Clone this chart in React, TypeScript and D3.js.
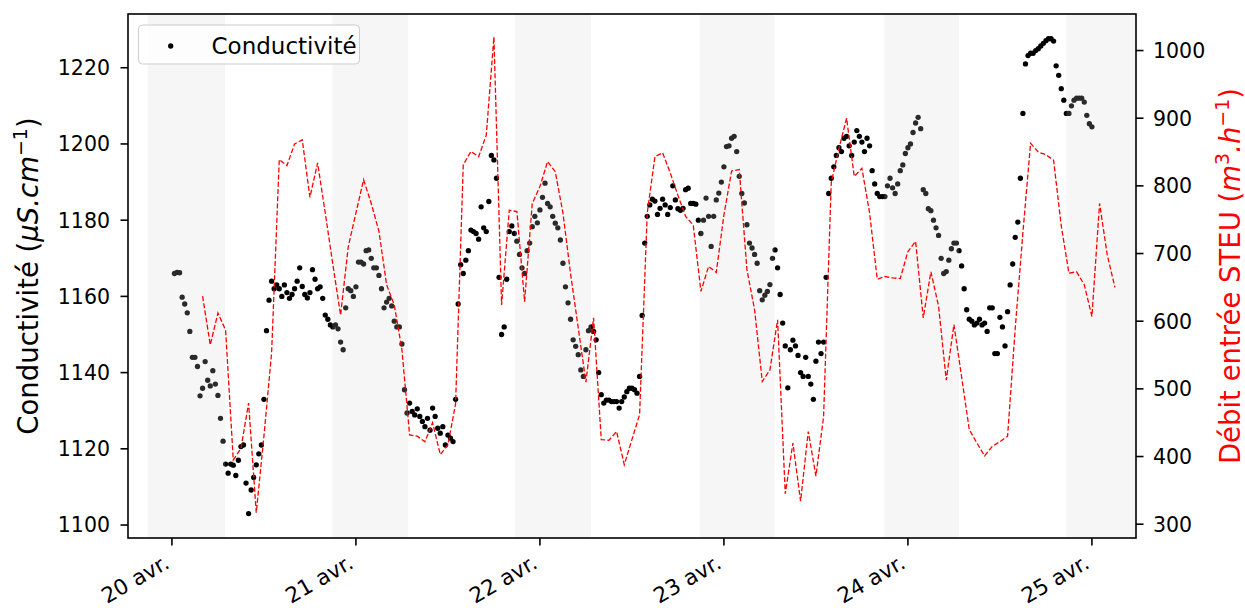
import * as d3 from 'd3';

// Conductivité (µS/cm), une mesure toutes les 20 min, à partir de 00:20 chaque jour
const COND_20 = [
  1166, 1166.3, 1166.2, 1159.8, 1158, 1155.7, 1150.8, 1144, 1144, 1141.6,
  1133.9, 1135.9, 1142.9, 1138, 1136.5, 1140.5, 1137, 1134, 1128, 1122,
  1116, 1113.6, 1116, 1115.7, 1113, 1117, 1120.6, 1121, 1111, 1103,
  1109.2, 1112.5, 1115.8, 1118.7, 1121, 1133, 1151, 1159, 1164, 1162,
  1163, 1162, 1160, 1163, 1161, 1159.5, 1160.5, 1162, 1164, 1167.5,
  1162.6, 1160.5, 1159.6, 1161, 1167, 1164.5, 1162, 1162.5, 1159.5, 1155.1,
  1154, 1152.5, 1152, 1152.5, 1151.5, 1148, 1146, 1157, 1162, 1161.5,
  1160, 1162.5
];
const COND_21 = [
  1169, 1169, 1168.5, 1172, 1172.2, 1170, 1167.5, 1167.5, 1165.5, 1162,
  1157, 1158.5, 1159.5, 1157.5, 1153.5, 1152, 1152, 1147.5, 1135.5, 1129.4,
  1132, 1129.8, 1128.9, 1130.5, 1128.5, 1127.2, 1125.8, 1128, 1124.9, 1130.7,
  1128.5, 1125.4, 1124.1, 1125.8, 1121, 1123.6, 1122.8, 1121.9, 1133, 1158,
  1168.3, 1166, 1169.5, 1172, 1177.4, 1177, 1176.5, 1175, 1183.5, 1178,
  1177, 1184.9, 1197, 1195.8, 1191, 1165, 1150, 1152, 1164.5, 1177,
  1178.5, 1176.5, 1174.5, 1171, 1167.5, 1166, 1172, 1174, 1178.3, 1181,
  1179.3, 1182.7
];
const COND_22 = [
  1186, 1189.7, 1184.4, 1183.5, 1181, 1179.2, 1178, 1174.8, 1168.7, 1162.5,
  1158.3, 1154, 1148.6, 1146.9, 1144.7, 1140.7, 1139, 1146, 1151, 1152,
  1150.8, 1148.6, 1140, 1134.2, 1132, 1132.8, 1132.8, 1132.4, 1132.4, 1132.4,
  1130.7, 1132.4, 1133.6, 1135, 1135.9, 1135.9, 1135.5, 1134.6, 1139, 1155,
  1174, 1181, 1184, 1185.5, 1185, 1181.5, 1183.1, 1185.5, 1184, 1181.5,
  1183.3, 1189, 1185.3, 1183, 1182.6, 1183.1, 1188, 1188.4, 1184.4, 1184.4,
  1184.2, 1180, 1176.5, 1180, 1185.8, 1181, 1173.1, 1181, 1185.3, 1187.1,
  1190, 1194
];
const COND_23 = [
  1199.3, 1199.5, 1201.5, 1202, 1198, 1191.5, 1187, 1184.5, 1178.8, 1174,
  1172.7, 1171, 1168.7, 1161.5, 1159.1, 1160.3, 1161.3, 1163.1, 1170, 1172.2,
  1167.5, 1160.5, 1153, 1147, 1136, 1146, 1148.5, 1147, 1144.5, 1140,
  1139, 1144, 1139, 1137, 1133, 1143, 1148, 1145, 1148, 1165,
  1187, 1191, 1194, 1197, 1199, 1198, 1201.5, 1202, 1199.5, 1197,
  1200.5, 1203.5, 1202, 1200.5, 1198, 1201.5, 1199.5, 1193, 1189.5, 1187,
  1186.2, 1186.2, 1186.2, 1189, 1191, 1188.5, 1187, 1189.5, 1193, 1194.5,
  1197.5, 1199
];
const COND_24 = [
  1200, 1203, 1205.5, 1207, 1204, 1188, 1187, 1183, 1182.5, 1180,
  1178, 1176, 1170, 1166, 1166.5, 1169.5, 1172.5, 1174, 1174, 1172,
  1168, 1162, 1156.5, 1154, 1153.5, 1152.5, 1153, 1154, 1152.5, 1153,
  1150.8, 1157, 1157, 1145, 1145, 1154.5, 1152, 1147, 1156, 1163,
  1168.5, 1175.5, 1179.5, 1191, 1208, 1221, 1223.2, 1223.8, 1223.8, 1224.5,
  1225, 1225.7, 1226.4, 1227.1, 1227.6, 1227.6, 1227, 1220.5, 1218, 1214.5,
  1211.5, 1208, 1208, 1210, 1211.5, 1212, 1212, 1212, 1211, 1207.5,
  1205.3, 1204.5
];
const COND_DAYS = [COND_20, COND_21, COND_22, COND_23, COND_24];

// Débit entrée STEU (m3/h), horaire
const DEBIT_20 = [637, 565, 612, 587, 395, 412, 479, 317, 430, 553, 839, 830, 862, 868, 783, 834, 760, 683, 609, 710]; // de 04:00
const DEBIT_21 = [760, 809, 774, 733, 654, 624, 558, 432, 430, 422, 450, 403, 417, 478, 831, 851, 843, 875, 1020, 624, 764, 762, 629, 774];
const DEBIT_22 = [799, 836, 821, 760, 670, 590, 510, 605, 425, 424, 437, 388, 425, 462, 760, 843, 849, 819, 786, 755, 742, 644, 681, 672];
const DEBIT_23 = [757, 822, 824, 676, 617, 511, 528, 602, 345, 420, 334, 437, 371, 459, 805, 855, 900, 814, 826, 760, 662, 666, 664, 663];
const DEBIT_24 = [703, 718, 605, 673, 622, 513, 595, 518, 440, 420, 401, 415, 422, 430, 590, 731, 863, 850, 846, 838, 741, 671, 673, 654];
const DEBIT_25 = [607, 774, 698, 650];
const DEBIT_DAYS = [DEBIT_20, DEBIT_21, DEBIT_22, DEBIT_23, DEBIT_24, DEBIT_25];
const DEBIT_FIRST_HOUR = [4, 0, 0, 0, 0, 0];

// périodes de nuit (zones grisées)
const NIGHTS = [
  ['2023-04-19T20:50', '2023-04-20T06:55'],
  ['2023-04-20T20:55', '2023-04-21T06:50'],
  ['2023-04-21T20:45', '2023-04-22T06:40'],
  ['2023-04-22T20:50', '2023-04-23T06:35'],
  ['2023-04-23T20:55', '2023-04-24T06:40'],
  ['2023-04-24T20:40', '2023-04-25T06:40']
];

const DAY_TICKS = ['2023-04-20', '2023-04-21', '2023-04-22', '2023-04-23', '2023-04-24', '2023-04-25'];
const MONTHS_FR = ['janv.', 'févr.', 'mars', 'avr.', 'mai', 'juin', 'juil.', 'août', 'sept.', 'oct.', 'nov.', 'déc.'];
const COND_TICKS = [1100, 1120, 1140, 1160, 1180, 1200, 1220];
const DEBIT_TICKS = [300, 400, 500, 600, 700, 800, 900, 1000];

const W = 1245;
const H = 608;
const LEFT = 128;
const RIGHT = 1136;
const TOP = 14;
const BOTTOM = 538;
const FONT = 'DejaVu Sans';

export default function App() {
  const HOUR = 3600e3;
  const t0 = Date.UTC(2023, 3, 20);
  const parse = d3.utcParse('%Y-%m-%dT%H:%M');
  const parseDay = d3.utcParse('%Y-%m-%d');

  const x = d3
    .scaleUtc()
    .domain([new Date(t0 - 5.73 * HOUR), new Date(t0 + 125.75 * HOUR)])
    .range([LEFT, RIGHT]);
  const yCond = d3.scaleLinear().domain([1096.6, 1234.1]).range([BOTTOM, TOP]);
  const yDebit = d3.scaleLinear().domain([279.6, 1054]).range([BOTTOM, TOP]);

  const cond = COND_DAYS.flatMap((vals, d) =>
    vals.map((v, i) => ({ t: new Date(t0 + (d * 24 + (i + 1) / 3) * HOUR), v }))
  );
  const debit = DEBIT_DAYS.flatMap((vals, d) =>
    vals.map((v, i) => ({ t: new Date(t0 + (d * 24 + DEBIT_FIRST_HOUR[d] + i) * HOUR), v }))
  );

  const line = d3
    .line<{ t: Date; v: number }>()
    .x((d) => x(d.t))
    .y((d) => yDebit(d.v));

  const fmtDay = (d: Date) => `${d.getUTCDate()} ${MONTHS_FR[d.getUTCMonth()]}`;

  return (
    <svg
      width={W}
      height={H}
      style={{ position: 'absolute', left: 0, top: 0, background: '#fff' }}
      fontFamily={FONT}
    >
      <defs>
        <clipPath id="plot-area">
          <rect x={LEFT} y={TOP} width={RIGHT - LEFT} height={BOTTOM - TOP} />
        </clipPath>
      </defs>

      <g clipPath="url(#plot-area)">
        {cond.map((d, i) => (
          <circle key={i} cx={x(d.t)} cy={yCond(d.v)} r={2.65} fill="#000" />
        ))}
        {NIGHTS.map(([a, b], i) => {
          const x0 = x(parse(a)!);
          const x1 = x(parse(b)!);
          return (
            <rect key={i} x={x0} y={TOP} width={x1 - x0} height={BOTTOM - TOP} fill="#d3d3d3" fillOpacity={0.2} />
          );
        })}
        <path
          d={line(debit) ?? ''}
          fill="none"
          stroke="#ff0000"
          strokeWidth={1.3}
          strokeDasharray="5,2.2"
        />
      </g>

      <rect
        x={LEFT}
        y={TOP}
        width={RIGHT - LEFT}
        height={BOTTOM - TOP}
        fill="none"
        stroke="#000"
        strokeWidth={1.6}
      />

      {/* axe gauche */}
      {COND_TICKS.map((v) => (
        <g key={v} transform={`translate(0,${yCond(v)})`}>
          <line x1={LEFT - 7.5} x2={LEFT} stroke="#000" strokeWidth={1.6} />
          <text x={110} dy="0.36em" textAnchor="end" fontSize={20.5} fill="#000">
            {v}
          </text>
        </g>
      ))}

      {/* axe droit */}
      {DEBIT_TICKS.map((v) => (
        <g key={v} transform={`translate(0,${yDebit(v)})`}>
          <line x1={RIGHT} x2={RIGHT + 7.5} stroke="#000" strokeWidth={1.6} />
          <text x={1153} dy="0.36em" textAnchor="start" fontSize={20.5} fill="#000">
            {v}
          </text>
        </g>
      ))}

      {/* axe x */}
      {DAY_TICKS.map((s) => {
        const d = parseDay(s)!;
        const px = x(d);
        return (
          <g key={s}>
            <line x1={px} x2={px} y1={BOTTOM} y2={BOTTOM + 7.5} stroke="#000" strokeWidth={1.6} />
            <text
              transform={`translate(${px - 1},${BOTTOM + 29}) rotate(-30)`}
              textAnchor="end"
              fontSize={21.5}
              fill="#000"
            >
              {fmtDay(d)}
            </text>
          </g>
        );
      })}

      {/* légende */}
      <rect x={138.5} y={25} width={221} height={39} rx={4} fill="#fff" fillOpacity={0.8} stroke="#cccccc" strokeWidth={1} />
      <circle cx={170.7} cy={46} r={2.65} fill="#000" />
      <text x={211.5} y={54} fontSize={23} fill="#000">
        Conductivité
      </text>

      {/* titres des axes */}
      <text transform={`translate(38,${(TOP + BOTTOM) / 2}) rotate(-90)`} textAnchor="middle" fontSize={27.5} fill="#000">
        Conductivité (<tspan fontStyle="italic">μS.cm</tspan>
        <tspan dy={-11} fontSize={19}>−1</tspan>
        <tspan dy={11}>)</tspan>
      </text>
      <text transform={`translate(1240,${(TOP + BOTTOM) / 2}) rotate(-90)`} textAnchor="middle" fontSize={27.5} fill="#ff0000">
        Débit entrée STEU (<tspan fontStyle="italic">m</tspan>
        <tspan dy={-11} fontSize={19}>3</tspan>
        <tspan dy={11} fontStyle="italic">.h</tspan>
        <tspan dy={-11} fontSize={19}>−1</tspan>
        <tspan dy={11}>)</tspan>
      </text>
    </svg>
  );
}
